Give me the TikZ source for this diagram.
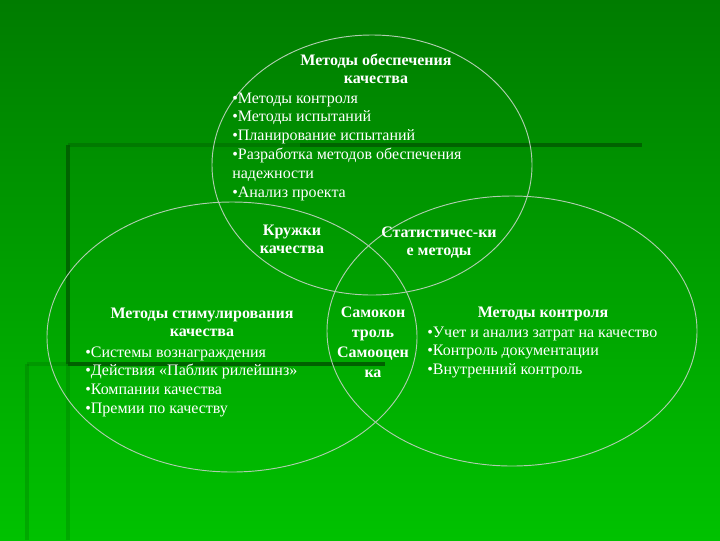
\documentclass[tikz,border=0pt]{standalone}
\usepackage{fontspec}
\setmainfont{Liberation Serif}
\usetikzlibrary{shapes.geometric}
\definecolor{bgtop}{RGB}{0,124,0}
\definecolor{bgbot}{RGB}{0,194,0}
\definecolor{rimc}{RGB}{175,205,175}
\definecolor{barc}{RGB}{0,85,0}
\tikzset{
  lbl/.style={text=white, inner sep=0pt, font=\fontsize{12}{14.1}\selectfont},
  ring/.style={ellipse, draw=rimc, line width=0.7pt, inner sep=0pt},
  bar/.style={draw=barc, line width=2.6pt},
  fbar/.style={draw=barc, line width=2.6pt, draw opacity=0.22},
}
\begin{document}
\begin{tikzpicture}[x=0.75pt,y=-0.75pt]
\useasboundingbox (0,0) rectangle (720,540);
\fill[top color=bgtop, bottom color=bgbot] (0,0) rectangle (720,540);
% decorative bars
\draw[fbar] (68,364) -- (68,540);
\draw[fbar] (27,364) -- (27,540);
\draw[fbar] (27,364) -- (68,364);
\draw[bar, draw opacity=0.35] (68,145) -- (300,145);
\draw[bar, draw opacity=0.75] (300,145) -- (642,145);
\draw[bar, draw opacity=0.75] (68,145) -- (68,364);
\draw[bar, draw opacity=0.85] (68,364) -- (385,364);
% circles
\node[ring, minimum width=240pt, minimum height=195pt] (cTop) at (372,165) {};
\node[ring, minimum width=277.5pt, minimum height=202.5pt] (cLeft) at (232,337) {};
\node[ring, minimum width=277.5pt, minimum height=202.5pt] (cRight) at (512,331) {};
% top block
\node[lbl, anchor=base] (tH) at (376,65) {\begin{tabular}[t]{@{}c@{}}\bfseries Методы обеспечения\\ \bfseries качества\end{tabular}};
\node[lbl, anchor=base west] (tL) at (232,103) {\begin{tabular}[t]{@{}l@{}}•Методы контроля\\ •Методы испытаний\\ •Планирование испытаний\\ •Разработка методов обеспечения\\ надежности\\ •Анализ проекта\end{tabular}};
% left block
\node[lbl, anchor=base] (lH) at (202,318) {\begin{tabular}[t]{@{}c@{}}\bfseries Методы стимулирования\\ \bfseries качества\end{tabular}};
\node[lbl, anchor=base west] (lL) at (85,357) {\begin{tabular}[t]{@{}l@{}}•Системы вознаграждения\\ •Действия «Паблик рилейшнз»\\ •Компании качества\\ •Премии по качеству\end{tabular}};
% right block
\node[lbl, anchor=base] (rH) at (543,317) {\bfseries Методы контроля};
\node[lbl, anchor=base west] (rL) at (427,337) {\begin{tabular}[t]{@{}l@{}}•Учет и анализ затрат на качество\\ •Контроль документации\\ •Внутренний контроль\end{tabular}};
% intersections
\node[lbl, anchor=base] (kr) at (292,235) {\begin{tabular}[t]{@{}c@{}}\bfseries Кружки\\ \bfseries качества\end{tabular}};
\node[lbl, anchor=base] (st) at (439,237) {\begin{tabular}[t]{@{}c@{}}\bfseries Статистичес-ки\\ \bfseries е методы\end{tabular}};
\node[lbl, anchor=base, font=\fontsize{12}{15}\selectfont] (sk) at (373,317) {\begin{tabular}[t]{@{}c@{}}\bfseries Самокон\\ \bfseries троль\\ \bfseries Самооцен\\ \bfseries ка\end{tabular}};
\end{tikzpicture}
\end{document}
